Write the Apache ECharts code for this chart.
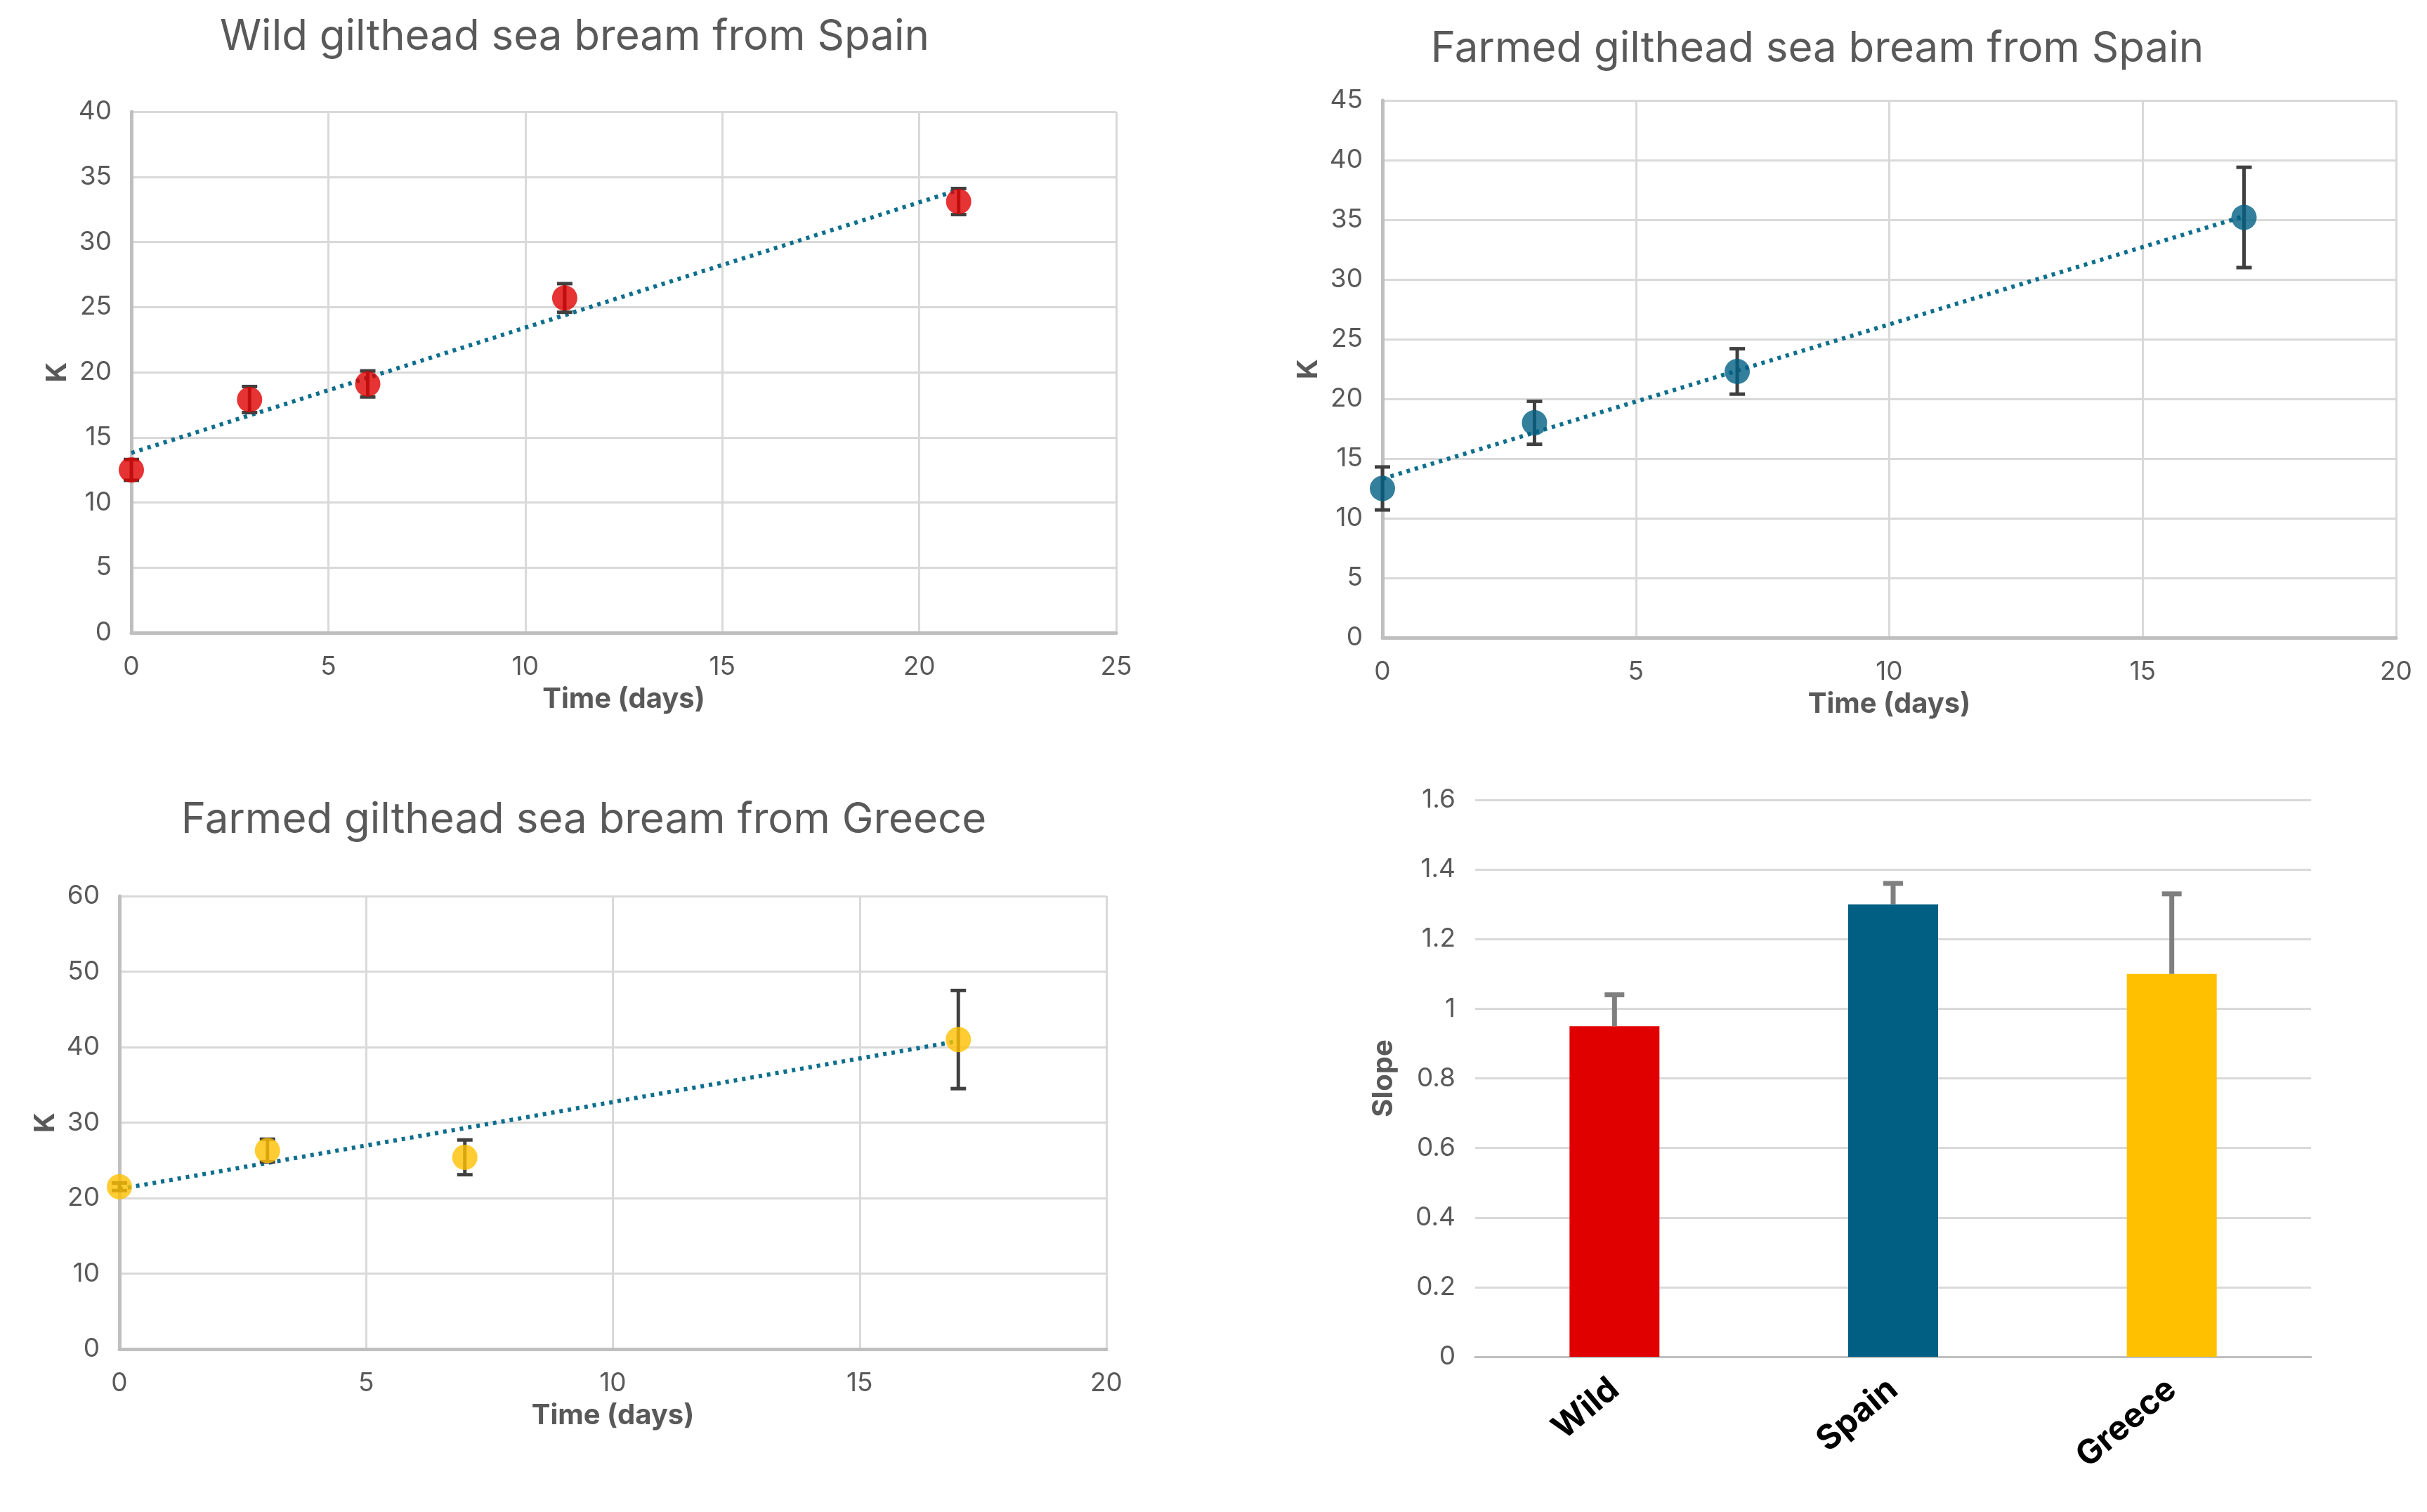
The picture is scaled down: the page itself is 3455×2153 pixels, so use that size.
<!DOCTYPE html>
<html>
<head>
<meta charset="utf-8">
<script src="https://cdn.jsdelivr.net/npm/echarts@6/dist/echarts.min.js"></script>
<style>html,body{margin:0;background:#fff}#c{width:3455px;height:2153px}</style>
</head>
<body>
<div id="c"></div>
<script>
// Wild, Spain
var wildX = [0, 3, 6, 11, 21];
var wildK = [12.5, 17.9, 19.1, 25.7, 33.1];
var wildErr = [0.8, 1.0, 1.0, 1.1, 1.0];
var wildTrend = [[0, 13.8], [21, 34.0]];

// Farmed, Spain
var spainX = [0, 3, 7, 17];
var spainK = [12.5, 18.0, 22.3, 35.2];
var spainErr = [1.8, 1.8, 1.9, 4.2];
var spainTrend = [[0, 13.3], [17, 35.3]];

// Farmed, Greece
var greeceX = [0, 3, 7, 17];
var greeceK = [21.5, 26.3, 25.4, 41.0];
var greeceErr = [0.5, 1.5, 2.3, 6.5];
var greeceTrend = [[0, 21.2], [17, 40.8]];

// slopes
var slopeCats = ['Wild', 'Spain', 'Greece'];
var slopeVals = [0.95, 1.30, 1.10];
var slopeErr = [0.09, 0.06, 0.23];
var barColors = ['#e00000', '#005f83', '#ffc000'];

var gridC = '#d9d9d9', axisC = '#bfbfbf', txtC = '#595959';
var font = 'Inter, "Open Sans", sans-serif';

function pts(xs, ys) {
	var out = [];
	for (var i = 0; i < xs.length; i++) out.push([xs[i], ys[i]]);
	return out;
}
function errs(xs, ys, e, upOnly) {
	var out = [];
	for (var i = 0; i < xs.length; i++) out.push([xs[i], upOnly ? ys[i] : ys[i] - e[i], ys[i] + e[i]]);
	return out;
}
function errRender(params, api) {
	var lo = api.coord([api.value(0), api.value(1)]);
	var hi = api.coord([api.value(0), api.value(2)]);
	var w = 11;
	var st = { stroke: '#404040', lineWidth: 5 };
	return { type: 'group', children: [
		{ type: 'line', shape: { x1: lo[0], y1: lo[1], x2: hi[0], y2: hi[1] }, style: st },
		{ type: 'line', shape: { x1: hi[0] - w, y1: hi[1], x2: hi[0] + w, y2: hi[1] }, style: st },
		{ type: 'line', shape: { x1: lo[0] - w, y1: lo[1], x2: lo[0] + w, y2: lo[1] }, style: st }
	]};
}
function xAx(idx, max) {
	return { gridIndex: idx, type: 'value', min: 0, max: max, interval: 5,
		name: 'Time (days)', nameLocation: 'middle', nameGap: 75,
		nameTextStyle: { fontSize: 40, fontWeight: 'bold', color: txtC, fontFamily: font },
		axisLine: { lineStyle: { color: axisC, width: 5 } }, axisTick: { show: false },
		axisLabel: { fontSize: 37, color: txtC, margin: 30, fontFamily: font },
		splitLine: { lineStyle: { color: gridC, width: 3 } } };
}
function yAx(idx, max, interval, name) {
	return { gridIndex: idx, type: 'value', min: 0, max: max, interval: interval,
		name: name, nameLocation: 'middle', nameGap: name === 'K' ? 85 : 110,
		nameTextStyle: { fontSize: 40, fontWeight: 'bold', color: txtC, fontFamily: font },
		axisLine: { show: idx !== 3, lineStyle: { color: axisC, width: 5 } }, axisTick: { show: false },
		axisLabel: { fontSize: 37, color: txtC, margin: 28, fontFamily: font },
		splitLine: { lineStyle: { color: gridC, width: 3 } } };
}
function scatterSet(idx, xs, ys, e, trend, color) {
	return [
		{ type: 'line', xAxisIndex: idx, yAxisIndex: idx, data: trend, symbol: 'none',
			lineStyle: { color: '#0e6e8c', width: 6, type: [5, 7] }, z: 2 },
		{ type: 'custom', xAxisIndex: idx, yAxisIndex: idx, data: errs(xs, ys, e), renderItem: errRender, z: 3 },
		{ type: 'scatter', xAxisIndex: idx, yAxisIndex: idx, data: pts(xs, ys), symbolSize: 36,
			itemStyle: { color: color }, z: 4 }
	];
}

var chart = echarts.init(document.getElementById('c'));
var tStyle = { fontSize: 60, color: txtC, fontWeight: 'normal', fontFamily: font };
var option = {
	animation: false,
	title: [
		{ text: 'Wild gilthead sea bream from Spain', left: 813, top: 18, textAlign: 'center', textStyle: tStyle },
		{ text: 'Farmed gilthead sea bream from Spain', left: 2582, top: 35, textAlign: 'center', textStyle: tStyle },
		{ text: 'Farmed gilthead sea bream from Greece', left: 826, top: 1133, textAlign: 'center', textStyle: tStyle }
	],
	grid: [
		{ left: 187, top: 159, width: 1402, height: 742 },
		{ left: 1968, top: 143, width: 1443, height: 765 },
		{ left: 170, top: 1276, width: 1405, height: 645 },
		{ left: 2100, top: 1139, width: 1190, height: 793 }
	],
	xAxis: [
		xAx(0, 25), xAx(1, 20), xAx(2, 20),
		{ gridIndex: 3, type: 'category', data: slopeCats,
			axisLine: { lineStyle: { color: axisC, width: 3 } }, axisTick: { show: false },
			axisLabel: { fontSize: 48, fontWeight: 'bold', color: '#000', rotate: 40, margin: 40, fontFamily: font } }
	],
	yAxis: [
		yAx(0, 40, 5, 'K'), yAx(1, 45, 5, 'K'), yAx(2, 60, 10, 'K'), yAx(3, 1.6, 0.2, 'Slope')
	],
	series: [].concat(
		scatterSet(0, wildX, wildK, wildErr, wildTrend, '#e00000'),
		scatterSet(1, spainX, spainK, spainErr, spainTrend, '#005f83'),
		scatterSet(2, greeceX, greeceK, greeceErr, greeceTrend, '#ffc000'),
		[
			{ type: 'bar', xAxisIndex: 3, yAxisIndex: 3, barWidth: 128,
				data: slopeVals.map(function (v, i) { return { value: v, itemStyle: { color: barColors[i] } }; }) },
			{ type: 'custom', xAxisIndex: 3, yAxisIndex: 3, z: 5,
				data: slopeCats.map(function (c, i) { return [i, slopeVals[i], slopeVals[i] + slopeErr[i]]; }),
				renderItem: function (params, api) {
					var lo = api.coord([api.value(0), api.value(1)]);
					var hi = api.coord([api.value(0), api.value(2)]);
					var st = { stroke: '#7f7f7f', lineWidth: 7 };
					return { type: 'group', children: [
						{ type: 'line', shape: { x1: lo[0], y1: lo[1], x2: hi[0], y2: hi[1] }, style: st },
						{ type: 'line', shape: { x1: hi[0] - 14, y1: hi[1], x2: hi[0] + 14, y2: hi[1] }, style: st }
					]};
				} }
		]
	)
};
chart.setOption(option);
</script>
</body>
</html>
